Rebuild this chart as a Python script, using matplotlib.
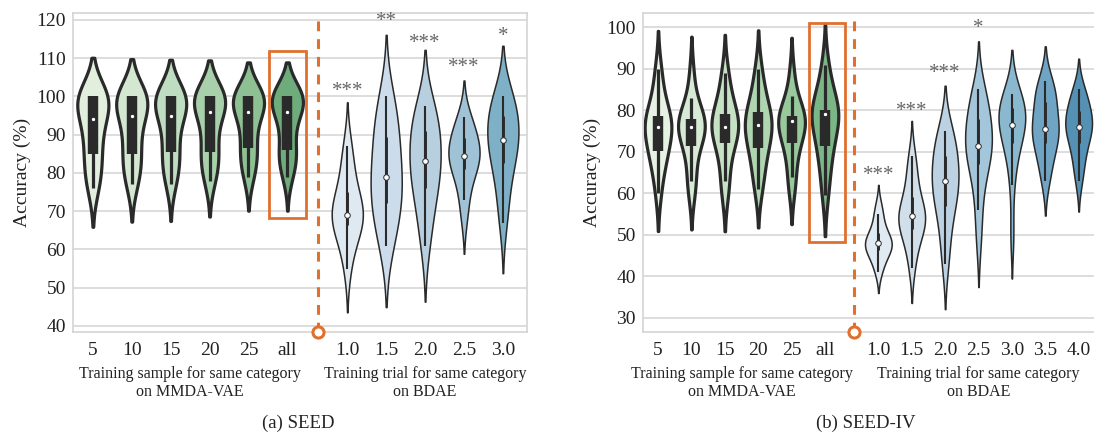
import numpy as np
import matplotlib
matplotlib.use("Agg")
import matplotlib.pyplot as plt
import matplotlib.transforms as mtransforms
from matplotlib.patches import Rectangle

plt.rcParams["font.family"] = ["Liberation Serif", "DejaVu Serif"]

# ---------------- data (per-subject accuracies, estimated) ----------------
seed_vae_labels = ["5", "10", "15", "20", "25", "all"]
seed_vae = [
    [76, 78, 81, 84, 86, 89, 92, 94, 96, 98, 100, 100, 100, 100, 100],
    [77, 79, 82, 84, 86, 89, 92, 95, 96, 98, 100, 100, 100, 100, 100],
    [77, 80, 82, 85, 86, 90, 93, 95, 97, 98, 100, 100, 100, 100, 100],
    [78, 80, 83, 85, 86, 90, 93, 96, 97, 99, 100, 100, 100, 100, 100],
    [79, 81, 84, 86, 87, 91, 94, 96, 97, 99, 100, 100, 100, 100, 100],
    [79, 82, 84, 85, 87, 91, 94, 96, 98, 99, 100, 100, 100, 100, 100],
]
seed_bdae_labels = ["1.0", "1.5", "2.0", "2.5", "3.0"]
seed_bdae = [
    [55, 60, 64, 66, 67, 68, 69, 69, 70, 72, 74, 76, 80, 84, 87],
    [61, 64, 68, 71, 73, 75, 77, 79, 82, 85, 88, 91, 94, 97, 100],
    [61, 66, 71, 75, 77, 79, 81, 83, 85, 87, 90, 92, 94, 96, 97.5],
    [68.5, 73, 77, 80, 82, 83, 84, 84.5, 85, 86, 88, 90, 91, 93, 94.5],
    [67, 72, 77, 81, 84, 86, 87, 88.5, 90, 92, 94, 96, 98, 99, 100],
]
seed_stars = ["***", "**", "***", "***", "*"]
seed_star_y = [102.5, 120.8, 115, 108.8, 117]

seed4_vae_labels = ["5", "10", "15", "20", "25", "all"]
seed4_vae = [
    [60, 65, 68, 70, 70.5, 73, 75, 76, 77, 77.5, 78, 79, 82, 86, 90],
    [60, 63, 66, 71, 72, 74, 75, 76, 76.5, 77, 78, 78, 80, 83, 89],
    [60, 63, 67, 71.5, 72.5, 74, 75, 76, 77, 78, 78.5, 79.5, 82, 86, 89],
    [61, 64, 67, 70.5, 71.5, 73, 75, 76.5, 77, 78, 79, 80, 83, 86, 90],
    [61, 64, 68, 71.5, 72.5, 74, 76, 77.5, 77.5, 78, 78, 79, 81, 83.5, 89],
    [59.5, 64, 68, 71, 72, 75, 77, 79, 79.5, 80, 80, 80, 84, 87, 91],
]
seed4_bdae_labels = ["1.0", "1.5", "2.0", "2.5", "3.0", "3.5", "4.0"]
seed4_bdae = [
    [41, 43, 44.5, 46, 46.5, 47, 47.5, 48, 48.5, 49, 50, 51, 53, 55, 57],
    [42, 46, 49, 51, 52, 53, 54, 54.5, 55, 56, 58, 60, 63, 66, 69],
    [43, 48, 53, 56, 58, 60, 62, 63, 64, 66, 68, 70, 72, 74, 75],
    [49, 56, 62, 66, 68, 70, 71, 71.5, 73, 75, 77, 79, 81, 83, 85],
    [50, 62, 68, 71, 73, 75, 76, 76.5, 78, 79, 80, 81, 82, 83, 84],
    [63, 66, 69, 71, 73, 74, 75, 75.5, 77, 79, 81, 83, 84, 86, 87],
    [63, 66, 69, 71, 73, 74.5, 75.5, 76, 77, 78, 79, 80.5, 82, 84, 85],
]
seed4_stars = ["***", "***", "***", "*", "", "", ""]
seed4_star_y = [65.6, 81, 90.1, 101, 0, 0, 0]

# ---------------- style ----------------
green_a = ["#e2efdf", "#d3e7d1", "#bfddc0", "#a8d1ab", "#8dc193", "#6ead7b"]
blue_a = ["#dfe9f1", "#cddceb", "#b8cfe0", "#9fc2d6", "#7eb0c8"]
green_b = ["#e6f2e4", "#d7ead5", "#c6e2c5", "#b0d6b1", "#97c99c", "#7bb786"]
blue_b = ["#e0eaf2", "#d0dfea", "#bcd2e3", "#a4c6da", "#8ab8cf", "#6fa4c4", "#5590b5"]
EDGE = "#2a2a2a"
ORANGE = "#e0702e"


def draw_violin(ax, pos, vals, color, lw, boxw, whw, dot, bw_adj):
    v = np.asarray(vals, float)
    bw = v.std(ddof=1) * len(v) ** (-0.2) * bw_adj
    ys = np.linspace(v.min() - 2 * bw, v.max() + 2 * bw, 300)
    dens = np.exp(-0.5 * ((ys[:, None] - v[None, :]) / bw) ** 2).sum(1)
    half = dens / dens.max() * 0.4
    ax.fill_betweenx(ys, pos - half, pos + half, facecolor=color,
                     edgecolor=EDGE, lw=lw, zorder=2)
    q1, med, q3 = np.percentile(v, [25, 50, 75])
    iqr = q3 - q1
    lo = v[v >= q1 - 1.5 * iqr].min()
    hi = v[v <= q3 + 1.5 * iqr].max()
    ax.plot([pos, pos], [lo, hi], color=EDGE, lw=whw, solid_capstyle="butt", zorder=3)
    ax.plot([pos, pos], [q1, q3], color=EDGE, lw=boxw, solid_capstyle="butt", zorder=3)
    ax.scatter([pos], [med], s=dot, c="white", edgecolors=EDGE, linewidths=0.7, zorder=4)


def panel(ax, vae, vae_lab, bdae, bdae_lab, greens, blues, stars, star_y,
          gap, dash_x, xlim, ylim, yticks, rect, bw_right):
    ax.set_facecolor("white")
    for s in ax.spines.values():
        s.set_color("#d4d4d4")
        s.set_linewidth(1.2)
    ax.yaxis.grid(True, color="#dadada", lw=1.3, zorder=0)
    ax.set_axisbelow(True)

    pos_l = np.arange(len(vae))
    pos_r = len(vae) - 1 + gap + np.arange(len(bdae))
    for p, d, c in zip(pos_l, vae, greens):
        draw_violin(ax, p, d, c, lw=2.3, boxw=7.5, whw=2.3, dot=10, bw_adj=1.0)
    for p, d, c in zip(pos_r, bdae, blues):
        draw_violin(ax, p, d, c, lw=1.1, boxw=2.1, whw=1.5, dot=16, bw_adj=bw_right)
    for p, s, y in zip(pos_r, stars, star_y):
        if s:
            ax.text(p, y - 1.3, s, ha="center", va="center", fontsize=15, color="#666666")

    ax.set_xlim(*xlim)
    ax.set_ylim(*ylim)
    ax.set_yticks(yticks)
    ax.set_xticks(list(pos_l) + list(pos_r))
    ax.set_xticklabels(vae_lab + bdae_lab)
    ax.tick_params(axis="both", length=0, labelsize=14, colors="#222222")
    ax.tick_params(axis="x", pad=7)
    ax.tick_params(axis="y", pad=5)
    ax.set_ylabel("Accuracy (%)", fontsize=14, color="#222222", labelpad=4)

    # dashed separator with open circle at the base
    ax.plot([dash_x, dash_x], [ylim[0], ylim[1]], color=ORANGE, lw=2.2,
            dashes=(3.2, 2.6), zorder=5, clip_on=False)
    ax.plot([dash_x], [ylim[0]], marker="o", ms=8, mfc="white", mec=ORANGE,
            mew=2.2, zorder=6, clip_on=False)

    # highlight box around "all"
    ax.add_patch(Rectangle((rect[0], rect[2]), rect[1] - rect[0], rect[3] - rect[2],
                           fill=False, ec=ORANGE, lw=2.0, zorder=5))

    tr = mtransforms.blended_transform_factory(ax.transData, ax.transAxes)
    ax.text(pos_l.mean(), -0.108, "Training sample for same category\non MMDA-VAE",
            transform=tr, ha="center", va="top", fontsize=11.5, color="#222222",
            linespacing=1.15)
    ax.text(pos_r.mean(), -0.108, "Training trial for same category\non BDAE",
            transform=tr, ha="center", va="top", fontsize=11.5, color="#222222",
            linespacing=1.15)


W, H = 1094, 434
fig = plt.figure(figsize=(W / 100, H / 100), dpi=100)
ax1 = fig.add_axes([73 / W, 1 - 332 / H, (527 - 73) / W, (332 - 13) / H])
ax2 = fig.add_axes([643 / W, 1 - 332 / H, (1097 - 643) / W, (332 - 13) / H])

panel(ax1, seed_vae, seed_vae_labels, seed_bdae, seed_bdae_labels, green_a, blue_a,
      seed_stars, seed_star_y, gap=1.54, dash_x=5.8, xlim=(-0.51, 11.16),
      ylim=(38.4, 121.8), yticks=range(40, 121, 10), rect=(4.54, 5.49, 68.3, 111.9),
      bw_right=1.15)
panel(ax2, seed4_vae, seed4_vae_labels, seed4_bdae, seed4_bdae_labels, green_b, blue_b,
      seed4_stars, seed4_star_y, gap=1.6, dash_x=5.88, xlim=(-0.45, 13.15),
      ylim=(26.6, 103.4), yticks=range(30, 101, 10), rect=(4.52, 5.6, 48.3, 101.0),
      bw_right=1.0)

fig.text(298 / W, 1 - 423 / H, "(a) SEED", ha="center", va="center", fontsize=13.5,
         color="#222222")
fig.text(866 / W, 1 - 423 / H, "(b) SEED-IV", ha="center", va="center", fontsize=13.5,
         color="#222222")

fig.savefig("out.png", dpi=100)
